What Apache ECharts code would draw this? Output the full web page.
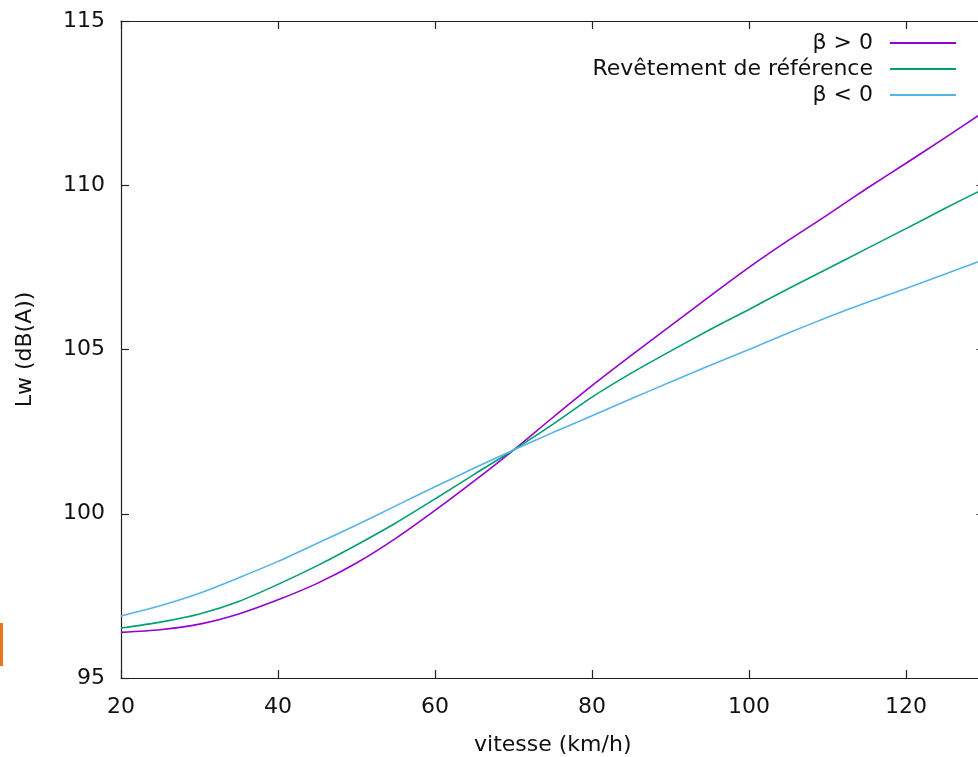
<!DOCTYPE html>
<html>
<head>
<meta charset="utf-8">
<script src="https://cdn.jsdelivr.net/npm/echarts@6/dist/echarts.min.js"></script>
<style>
  html, body { margin: 0; padding: 0; background: #fff; }
  #chart { width: 978px; height: 757px; }
</style>
</head>
<body>
<div id="chart"></div>
<script>
// Data
var speeds = [20, 25, 30, 35, 40, 45, 50, 55, 60, 65, 70, 75, 80, 85, 90, 95, 100, 105, 110, 115, 120, 125, 130];
var betaPos = [96.39, 96.47, 96.64, 96.95, 97.38, 97.88, 98.5, 99.25, 100.1, 101.0, 101.94, 102.93, 103.9, 104.82, 105.72, 106.62, 107.5, 108.32, 109.1, 109.9, 110.67, 111.45, 112.25];
var reference = [96.52, 96.7, 96.95, 97.33, 97.85, 98.42, 99.05, 99.72, 100.45, 101.2, 101.94, 102.72, 103.55, 104.28, 104.95, 105.6, 106.22, 106.85, 107.46, 108.07, 108.68, 109.3, 109.9];
var betaNeg = [96.89, 97.2, 97.58, 98.05, 98.55, 99.1, 99.66, 100.24, 100.82, 101.39, 101.94, 102.47, 102.98, 103.5, 104.01, 104.51, 105.0, 105.5, 105.98, 106.43, 106.86, 107.3, 107.74];
var seriesNames = ['\u03B2 > 0', 'Rev\u00EAtement de r\u00E9f\u00E9rence', '\u03B2 < 0'];
var seriesColors = ['#9400d3', '#009e73', '#56b4e9'];
var xTitle = 'vitesse (km/h)';
var yTitle = 'Lw (dB(A))';

function pairs(xs, ys) {
  return xs.map(function (x, i) { return [x, ys[i]]; });
}

var FONT = 'DejaVu Sans';
var chart = echarts.init(document.getElementById('chart'), null, { renderer: 'canvas' });

var axisLineStyle = { color: '#222', width: 1.2 };

var seriesData = [betaPos, reference, betaNeg];

chart.setOption({
  backgroundColor: '#ffffff',
  animation: false,
  textStyle: { fontFamily: FONT },
  grid: { left: 121, top: 21, bottom: 79, right: -6.5, containLabel: false, outerBoundsMode: 'none' },
  legend: {
    orient: 'vertical',
    align: 'right',
    right: 22,
    top: 32,
    padding: 0,
    itemGap: 4,
    itemWidth: 66,
    itemHeight: 2,
    icon: 'rect',
    selectedMode: false,
    data: seriesNames,
    textStyle: { fontFamily: FONT, fontSize: 22, color: '#111', lineHeight: 22, padding: [0, 12, 0, 0] }
  },
  xAxis: [
    {
      type: 'value', position: 'bottom', min: 20, max: 130, interval: 20,
      name: xTitle, nameLocation: 'middle', nameGap: 56,
      nameTextStyle: { fontFamily: FONT, fontSize: 22, color: '#111' },
      axisLine: { show: true, lineStyle: axisLineStyle },
      axisTick: { show: true, inside: true, length: 8, lineStyle: axisLineStyle },
      axisLabel: { show: true, margin: 18, fontFamily: FONT, fontSize: 22, color: '#111', showMaxLabel: false },
      splitLine: { show: false }
    },
    {
      type: 'value', position: 'top', min: 20, max: 130, interval: 20,
      axisLine: { show: true, lineStyle: axisLineStyle },
      axisTick: { show: true, inside: true, length: 8, lineStyle: axisLineStyle },
      axisLabel: { show: false },
      splitLine: { show: false }
    }
  ],
  yAxis: [
    {
      type: 'value', position: 'left', min: 95, max: 115, interval: 5,
      name: yTitle, nameLocation: 'middle', nameGap: 85, nameRotate: 90,
      nameTextStyle: { fontFamily: FONT, fontSize: 22, color: '#111' },
      axisLine: { show: true, lineStyle: axisLineStyle },
      axisTick: { show: true, inside: true, length: 8, lineStyle: axisLineStyle },
      axisLabel: { show: true, margin: 16, fontFamily: FONT, fontSize: 22, color: '#111' },
      splitLine: { show: false }
    },
    {
      type: 'value', position: 'right', min: 95, max: 115, interval: 5,
      axisLine: { show: true, lineStyle: axisLineStyle },
      axisTick: { show: true, inside: true, length: 8, lineStyle: axisLineStyle },
      axisLabel: { show: false },
      splitLine: { show: false }
    }
  ],
  graphic: [
    { type: 'rect', left: 0, top: 623, shape: { width: 3, height: 43 }, style: { fill: '#e8761c' }, silent: true }
  ],
  series: seriesData.map(function (vals, i) {
    return {
      name: seriesNames[i],
      type: 'line',
      xAxisIndex: 0,
      yAxisIndex: 0,
      data: pairs(speeds, vals),
      smooth: 0.25,
      showSymbol: false,
      symbol: 'none',
      clip: true,
      lineStyle: { color: seriesColors[i], width: 1.6 },
      itemStyle: { color: seriesColors[i] }
    };
  })
});
</script>
</body>
</html>
